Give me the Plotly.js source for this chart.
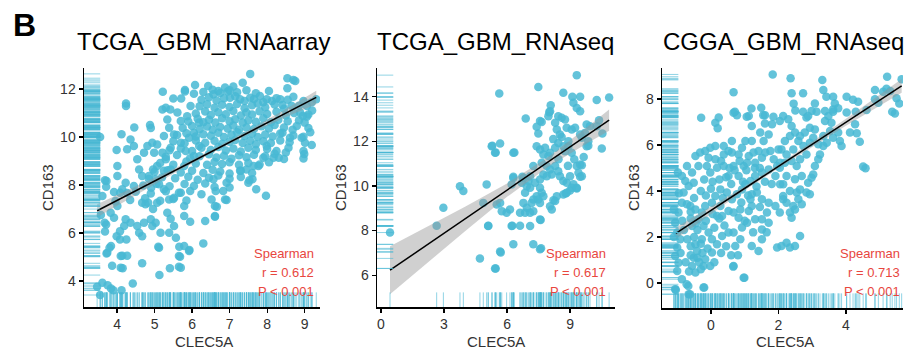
<!DOCTYPE html>
<html>
<head>
<meta charset="utf-8">
<script src="https://cdn.plot.ly/plotly-3.0.1.min.js"></script>
<style>html,body{margin:0;padding:0;background:#fff;}#chart{width:905px;height:349px;}</style>
</head>
<body>
<div id="chart"></div>
<script>
// ---------- Data (CLEC5A, CD163) ----------
const titles = ["TCGA_GBM_RNAarray", "TCGA_GBM_RNAseq", "CGGA_GBM_RNAseq"];
const rValues = ["0.612", "0.617", "0.713"];
const pValues = ["P < 0.001", "P < 0.001", "P < 0.001"];

const arrayPts = [
[3.47,3.76],[3.55,3.42],[3.61,3.93],[3.75,3.83],[3.84,3.69],[3.9,3.62],[4.12,3.62],[4.42,3.9],[5.13,4.25],[4.67,4.74],
[3.87,4.64],[4.14,5.05],[4.27,5.05],[4.15,4.53],[3.72,5.15],[3.84,5.46],[3.57,6.75],[3.71,6.36],[3.68,6.06],[3.71,7.93],
[3.68,8.2],[3.55,10.0],[5.41,4.53],[5.66,5.43],[5.93,5.29],[5.68,5.01],[5.65,4.6],[6.3,5.57],[5.1,5.43],[5.95,6.47],
[6.61,6.68],[6.66,7.1],[6.92,7.38],[7.71,7.82],[7.97,7.55],[7.5,8.1],[7.53,8.2],[8.97,9.11],[8.99,9.29],[9.19,9.67],
[8.97,10.01],[9.06,10.85],[9.31,11.57],[9.19,11.45],[8.7,12.38],[8.54,12.45],[8.54,12.03],[7.55,12.63],[7.1,12.1],[6.08,12.17],
[5.81,11.96],[5.22,11.89],[5.5,11.6],[4.24,11.4],[4.24,11.29],[4.46,10.4],[4.88,10.5],[4.12,10.12],[3.99,9.46],
[3.61,7.54],[3.72,8.17],[3.67,6.43],[3.74,5.18],[3.8,5.39],[4.01,8.79],[4.01,8.38],[4.14,7.82],[4.23,8.1],[4.27,7.67],
[4.45,7.96],[4.59,8.65],[4.67,8.38],[4.54,9.07],[4.72,9.35],[4.45,9.63],[4.27,9.49],[4.36,9.9],[4.81,9.63],[4.94,9.76],
[5.07,9.69],[4.99,9.35],[5.21,9.35],[5.3,9.07],[5.43,9.55],[5.7,9.76],[5.83,9.42],[5.92,9.97],[6.05,10.18],[6.19,9.63],
[6.05,9.21],[5.79,8.79],[5.43,8.65],[5.25,8.6],[5.07,8.79],[4.96,8.65],[4.85,8.38],[5.03,8.24],[5.12,8.03],[5.25,7.82],
[4.91,7.89],[4.67,7.26],[4.76,7.2],[4.83,7.26],[4.96,7.0],[5.07,7.26],[5.39,7.4],[5.52,7.47],[5.7,7.68],[5.79,7.13],
[5.79,6.71],[5.34,6.85],[5.43,6.6],[4.9,6.57],[5.03,6.43],[4.94,6.29],[5.16,6.01],[4.72,6.43],[4.54,6.29],[4.59,6.01],
[4.67,5.87],[4.36,6.43],[4.23,6.57],[4.19,6.29],[4.08,6.08],[3.99,5.87],[4.08,5.73],[4.25,5.73],[3.92,6.64],[3.83,6.85],
[4.01,7.13],[3.96,7.33],[4.08,7.68],[3.92,7.71],[5.52,6.29],[5.39,6.01],[5.12,5.39],[5.57,5.8],[5.65,5.04],[5.79,5.46],
[5.7,4.56],[5.92,5.25],[4.1,5.04],[4.1,4.56],
[4.9,10.38],[5.21,11.15],[5.3,11.22],[5.42,11.15],[5.34,10.73],[5.39,10.39],[5.71,11.6],[5.81,11.9],[6.05,11.8],[5.61,11.02],
[5.7,10.67],[5.87,10.87],[5.96,11.29],[5.52,10.11],[5.25,10.04],[6.19,10.6],
[8.75,12.33],[7.35,12.26],[7.0,11.95],[6.88,12.06],[6.7,11.92],[6.57,11.78],[6.43,12.13],[7.01,11.64],[7.28,11.57],[7.55,11.64],
[7.81,11.71],[7.99,11.57],[8.13,11.5],[8.35,11.57],[8.41,11.33],[8.97,11.5],[9.06,11.29],[9.1,10.94],[8.88,11.02],[8.79,10.46],
[8.92,9.97],[9.01,9.76],[8.97,9.42],[8.61,9.97],[8.57,9.55],[8.41,10.18],[8.31,9.14],[8.17,9.14],[7.99,9.63],[7.9,9.14],
[7.77,8.79],[7.64,8.79],[7.61,8.24],[7.45,8.65],[7.28,8.6],[6.92,8.1],[7.0,7.9],[6.83,7.75],[6.57,8.24],[6.63,7.75],
[6.52,7.4],[6.88,7.4],[6.61,7.13],[6.61,6.71],[6.35,6.5],
[6.3,11.88],[6.55,11.97],[6.75,11.83],[6.95,11.9],[7.2,11.86],[7.45,11.95],[7.7,11.82],[8.05,11.92],
[6.25,11.55],[6.45,11.66],[6.65,11.52],[6.85,11.62],[7.15,11.7],[7.4,11.5],[7.65,11.58],[7.9,11.45],[8.25,11.62],[8.55,11.55],[8.7,11.68],
[6.2,11.28],[6.4,11.36],[6.6,11.22],[6.8,11.34],[7.0,11.25],[7.2,11.38],[7.4,11.2],[7.6,11.32],[7.75,11.4],[7.95,11.24],[8.2,11.35],[8.45,11.18],[8.65,11.3],
[6.1,10.98],[6.35,11.06],[6.5,10.92],[6.7,11.03],[6.9,10.95],[7.1,11.08],[7.3,10.9],[7.45,11.02],[7.6,10.94],[7.8,11.07],[8.0,10.96],[8.25,11.05],[8.5,10.9],[8.72,11.0],[8.95,10.88],
[5.9,10.65],[6.15,10.76],[6.3,10.62],[6.45,10.72],[6.62,10.6],[6.8,10.78],[7.0,10.66],[7.15,10.74],[7.35,10.6],[7.5,10.7],[7.7,10.64],[7.9,10.78],[8.1,10.62],[8.3,10.72],[8.55,10.66],[8.85,10.7],
[5.75,10.38],[6.0,10.46],[6.2,10.32],[6.4,10.44],[6.55,10.3],[6.75,10.42],[6.95,10.35],[7.1,10.48],[7.25,10.3],[7.45,10.4],[7.65,10.33],[7.85,10.45],[8.05,10.36],[8.2,10.5],[8.45,10.4],[8.68,10.3],[9.1,10.38],
[5.6,10.08],[5.85,10.16],[6.1,10.02],[6.3,10.12],[6.5,10.05],[6.7,10.18],[6.85,10.0],[7.05,10.1],[7.2,10.2],[7.4,10.04],[7.6,10.14],[7.75,10.0],[7.95,10.1],[8.15,10.02],[8.35,10.15],[8.7,10.06],
[5.5,9.82],[5.8,9.74],[6.1,9.86],[6.35,9.76],[6.6,9.84],[6.8,9.72],[7.0,9.8],[7.15,9.88],[7.35,9.75],[7.55,9.84],[7.7,9.7],[7.9,9.82],[8.1,9.75],[8.35,9.86],[8.6,9.78],
[5.4,9.45],[5.7,9.52],[6.0,9.42],[6.25,9.55],[6.5,9.46],[6.7,9.58],[6.9,9.44],[7.1,9.52],[7.3,9.4],[7.5,9.55],[7.7,9.46],[8.0,9.5],[8.25,9.42],[8.5,9.36],
[5.3,9.18],[5.6,9.25],[5.95,9.12],[6.2,9.2],[6.45,9.28],[6.65,9.15],[6.85,9.22],[7.05,9.1],[7.25,9.24],[7.45,9.16],[7.65,9.26],[7.95,9.2],[8.2,9.3],[8.45,9.08],
[5.15,8.92],[5.5,8.85],[5.85,8.98],[6.1,8.9],[6.4,8.84],[6.6,8.96],[6.8,8.88],[7.0,8.95],[7.25,8.84],[7.5,8.92],[7.8,8.86],[8.05,8.95],
[5.0,8.55],[5.35,8.62],[5.7,8.52],[6.0,8.6],[6.3,8.5],[6.55,8.64],[6.75,8.56],[7.0,8.48],[7.3,8.6],[7.6,8.5],
[4.85,8.25],[5.2,8.32],[5.55,8.28],[5.9,8.35],[6.15,8.22],[6.45,8.3],[6.7,8.4],[7.0,8.26],[7.3,8.34],
[4.7,7.98],[5.05,8.05],[5.4,7.95],[5.8,8.04],[6.05,7.96],[6.35,8.06],[6.6,7.92],
[4.5,7.72],[4.9,7.65],[5.3,7.74],[5.65,7.68],[5.95,7.75],[6.25,7.62],
[4.35,7.38],[4.75,7.45],[5.15,7.35],[5.5,7.42],[5.85,7.36],
[9.0,10.6],[9.2,11.1],[8.85,11.3],[9.15,10.2]
];

const seqPts = [
[0.43,7.91],[2.65,8.21],[5.63,14.15],[7.49,14.44],[8.68,14.18],[9.32,14.97],[9.48,14.0],[9.11,14.0],[10.27,13.85],[10.86,13.97],
[10.38,12.95],[10.54,12.35],[10.51,11.68],[9.87,11.8],[9.56,10.93],[9.48,10.41],[9.32,9.89],[9.16,10.08],[9.0,9.8],[8.79,9.66],
[8.21,9.36],[6.3,10.41],[6.35,11.5],[6.73,10.41],[6.89,13.03],[7.41,12.65],[7.49,12.35],[7.65,12.87],[8.01,13.3],[8.08,13.62],
[4.71,6.75],[5.46,6.3],[5.7,7.02],[7.62,7.2],[5.11,8.21],[6.25,8.21],[6.62,8.21],[7.6,8.47],[5.46,11.5],[5.3,11.8],
[9.16,13.73],[9.32,13.5],[9.48,13.35],[8.05,13.35],[7.97,13.13],[7.57,12.91],[8.44,13.13],[8.6,13.06],[8.76,12.98],
[8.84,12.61],[9.08,12.53],[9.24,12.61],[8.29,12.83],[8.37,12.53],[8.52,12.31],[9.79,12.76],[9.95,12.68],[9.71,12.38],[10.27,12.68],
[9.48,12.31],[9.56,12.16],[9.79,11.78],[9.87,12.01],[8.92,12.01],[8.92,11.78],[9.08,11.49],[8.68,11.78],[8.76,11.56],[8.44,11.93],
[8.29,11.71],[8.05,11.49],[7.97,11.34],[7.81,11.71],[7.73,11.41],[7.57,11.63],[7.41,11.78],[7.25,10.89],[7.65,11.04],[7.89,10.89],
[8.05,10.74],[8.13,10.51],[8.29,10.89],[8.44,10.66],[8.52,10.44],[8.68,10.22],[8.84,10.14],[9.0,10.44],[9.32,10.89],[9.4,10.59],
[9.48,10.96],[9.56,10.44],[7.89,10.44],[7.73,10.51],[7.57,10.29],[7.33,10.14],[7.1,10.44],[6.78,10.36],[6.7,10.14],[6.3,10.36],
[6.22,10.07],[7.1,9.92],[7.57,9.92],[7.65,9.69],[7.73,9.54],[7.41,9.54],[7.25,9.39],[7.02,10.22],[6.94,9.99],[6.86,9.69],
[7.17,9.24],[7.49,9.39],[7.57,9.24],[6.78,9.24],[6.94,9.02],[6.62,8.8],[6.86,8.8],[7.1,8.8],[7.25,8.87],[7.57,8.5],
[7.1,8.2],[6.22,8.2],[6.14,8.94],[5.98,8.8],[5.75,8.87],[5.51,9.17],[5.67,9.24],[4.87,9.24],[5.1,8.2],[5.03,10.07],
[3.76,9.99],[3.92,9.77],[2.97,9.02],[5.27,11.78],[5.67,11.9],[5.43,11.49],[6.3,11.49],[9.08,9.92],[8.84,9.69],[8.68,9.62],
[9.32,9.92],[8.37,9.54],[8.29,9.32],[8.05,9.09],[8.13,8.94],[6.3,7.38],[7.25,7.38],[7.57,7.16],[5.67,7.06],[5.43,6.3],
[8.6,12.2],[8.2,12.1],[9.2,11.2],[8.45,11.2],[8.9,10.9],[9.65,11.3]
];

const cggaPts = [
[-0.46,5.52],[-0.32,5.67],[-0.07,5.45],[0.13,5.38],[-0.12,5.09],[-0.02,4.8],[0.18,5.01],[0.38,5.59],[0.52,5.74],[0.62,5.67],
[0.82,5.59],[0.38,5.09],[0.52,4.65],[0.67,5.09],[0.82,4.65],[0.97,5.09],[1.07,5.23],[1.12,5.52],[1.26,5.67],[1.41,5.74],
[1.31,5.23],[1.51,5.45],[1.61,5.67],[1.76,5.74],[1.86,5.38],[1.96,5.09],[1.71,4.94],[1.51,4.8],[1.31,4.65],[1.17,4.43],
[1.02,4.29],[0.92,4.07],[0.77,3.86],[0.62,3.64],[0.47,3.93],[0.28,4.07],[0.13,3.78],[0.03,3.49],[-0.17,3.35],[-0.27,3.06],
[-0.46,3.2],[-0.61,3.35],[-0.37,2.77],[-0.56,2.48],[-0.22,2.48],[-0.07,2.19],[0.03,1.9],[-0.27,1.9],[-0.46,1.68],[-0.41,1.39],
[-0.51,1.1],[-0.56,0.74],[-0.46,0.45],[-0.22,0.74],[-0.02,0.74],[-0.17,1.03],[0.03,1.32],[0.18,1.68],[0.33,2.04],[0.52,2.19],
[0.67,2.19],[0.72,1.61],[0.87,1.9],[0.92,2.41],[1.07,2.62],[0.82,2.84],[0.67,3.06],[0.87,3.2],[1.12,3.13],[1.21,3.35],
[1.31,2.77],[1.51,2.77],[1.66,3.06],[1.71,3.49],[1.51,3.64],[1.36,3.93],[1.21,3.86],[1.17,3.64],[1.51,2.33],[1.71,2.62],
[1.51,1.9],[1.41,1.39],[1.21,1.61],[0.67,0.74],[0.97,0.23],[-0.22,-0.2],[0.52,3.13],[0.33,2.91],[0.18,2.91],[0.28,3.35],
[1.91,3.35],[1.96,1.54],[2.05,4.29],[1.91,4.65],[2.05,5.23],[2.0,5.81],[1.56,6.17],[1.71,6.46],[1.81,6.9],[1.46,6.54],
[1.21,6.17],[1.02,6.17],[0.92,5.88],[0.62,6.17],[0.38,5.96],[0.13,5.96],[-0.02,5.88],[-0.17,5.74],[-0.37,5.09],[-0.56,4.8],
[-0.86,4.65],[-0.71,5.09],[-0.76,4.43],
[-1.06,2.62],[-1.0,2.19],[-0.91,1.9],[-1.0,1.54],[-1.06,1.17],[-0.96,0.88],[-1.0,0.52],[-1.06,-0.27],[-0.86,0.16],[-0.72,-0.06],
[-0.66,-0.49],[-0.86,3.49],[-0.96,3.06],[-0.71,3.42],[-0.81,3.93],[-0.66,4.22],[-0.51,4.36],[-0.98,4.8],
[1.83,9.07],[0.67,8.3],[-0.29,7.19],[0.13,6.97],[0.23,7.2],[0.2,6.73],[0.67,7.4],[0.77,7.3],[1.12,7.26],[1.49,7.62],[1.6,7.3],[1.21,6.83],
[0.66,0.71],[0.99,0.23],[-0.2,-0.2],[-0.62,-0.49],[-1.04,-0.3],[-0.67,-0.13],
[-0.8,2.3],[-0.7,1.9],[-0.6,1.6],[-0.5,2.0],[-0.4,2.3],[-0.3,1.7],[-0.6,1.2],[-0.75,0.9],[-0.35,0.9],[-0.25,1.3],
[-0.1,1.5],[-0.85,2.7],[-0.6,2.8],[-0.4,1.1],[-0.15,2.7],[-0.9,1.3],[-0.65,0.5],[-0.3,0.6],[-1.1,2.0],[-1.1,3.2],
[-0.95,3.9],[-0.5,3.7],[-0.3,4.0],[-0.15,3.8],[0.0,4.1],[-0.6,3.1],[-0.45,2.6],[0.1,2.4],[0.25,2.8],[0.05,3.0],
[0.4,2.5],[0.45,1.6],[0.3,1.3],[0.1,0.9],[0.6,1.2],[0.35,3.7],[0.6,4.3],[0.45,4.6],[0.25,4.5],[0.05,4.4],
[-0.2,4.5],[0.7,4.9],[0.95,4.4],[1.05,4.9],[1.3,5.0],[0.85,5.3],[0.3,5.3],[0.55,5.0],[1.45,5.0],[1.6,4.4],
[1.35,4.2],[1.8,4.3],[1.1,3.8],[1.45,3.3],[0.9,3.5],[1.0,2.7],[1.25,2.2],[1.65,2.2],[0.8,1.2],
[2.04,7.04],[2.14,7.26],[2.29,7.12],[2.39,6.83],[2.49,6.54],[2.34,6.39],[2.19,6.17],[2.09,5.81],[2.24,5.59],[2.44,5.81],
[2.59,6.17],[2.64,6.39],[2.78,6.54],[2.93,6.75],[3.08,6.68],[3.03,6.32],[2.93,6.1],[2.74,5.96],[2.83,5.59],[2.64,5.38],
[2.54,5.09],[2.39,5.3],[2.19,5.23],[2.04,5.01],[2.24,4.65],[2.49,4.51],[2.69,4.65],[2.88,4.36],[2.98,4.58],[3.03,4.72],
[3.08,5.09],[3.18,5.38],[3.23,5.59],[3.33,5.96],[3.43,6.1],[3.62,6.32],[3.77,6.54],[3.82,6.17],[3.33,6.39],[3.18,6.03],
[2.14,4.29],[2.34,4.0],[2.54,3.93],[2.64,4.07],[2.83,3.93],[2.14,3.64],[2.24,3.49],[2.44,3.35],[2.59,3.64],[2.69,3.42],
[2.93,3.86],[2.34,3.06],[2.39,2.84],[2.49,3.2],[2.64,2.04],[2.24,1.75],[2.34,1.54],[2.49,1.61],[2.09,1.61],[2.14,3.78],[2.04,3.06],
[2.36,8.9],[3.3,8.83],[5.22,8.97],[5.65,8.86],[2.39,8.25],[2.73,8.25],[2.45,7.8],[2.5,7.5],[2.73,7.45],[2.83,7.2],
[3.08,7.81],[3.13,7.45],[3.33,8.39],[3.42,8.1],[3.62,8.1],[3.67,7.81],[3.62,7.45],[3.77,7.6],[4.02,8.1],[4.21,7.97],
[4.29,7.45],[4.36,7.88],[4.61,7.52],[4.86,8.39],[5.1,8.32],[5.2,8.45],[5.5,8.03],[5.58,7.81],[5.45,7.37],[5.37,7.45],
[4.41,6.14],[4.32,6.51],[4.51,5.06],[4.58,4.99],[1.55,7.3],[1.6,6.94],[1.85,7.23],[1.2,7.59],[1.06,7.23],[0.71,7.45],
[3.57,6.97],[3.53,6.61],[3.38,7.04],[3.48,7.26],[3.38,7.48],[3.62,7.55],[4.02,7.41],[4.27,6.9],[4.12,6.54],[3.87,5.96],
[2.98,7.48],[2.88,7.26],[4.96,7.84],[4.86,7.99],[5.31,8.35]
];

// Fitted lines with 95% band
const fitX1 = [3.47, 4.5, 5.5, 6.5, 7.5, 8.5, 9.31];
const fitY1 = [6.93, 7.76, 8.57, 9.38, 10.19, 11.0, 11.65];
const loY1  = [6.66, 7.59, 8.47, 9.31, 10.1, 10.83, 11.37];
const hiY1  = [7.2, 7.93, 8.67, 9.45, 10.28, 11.17, 11.93];

const fitX2 = [0.43, 2, 4, 6, 8, 10, 10.86];
const fitY2 = [6.22, 7.23, 8.52, 9.81, 11.1, 12.4, 12.95];
const loY2  = [5.14, 6.38, 7.97, 9.51, 10.88, 12.02, 12.47];
const hiY2  = [7.3, 8.08, 9.07, 10.11, 11.32, 12.78, 13.43];

const fitX3 = [-1.04, 0, 1, 2, 3, 4, 5.65];
const fitY3 = [2.16, 3.16, 4.12, 5.07, 6.03, 6.99, 8.57];
const loY3  = [1.91, 3.01, 4.03, 4.99, 5.93, 6.84, 8.27];
const hiY3  = [2.41, 3.31, 4.21, 5.15, 6.13, 7.14, 8.87];

const xTicks1 = [4,5,6,7,8,9], yTicks1 = [4,6,8,10,12];
const xTicks2 = [0,3,6,9],     yTicks2 = [6,8,10,12,14];
const xTicks3 = [0,2,4],       yTicks3 = [0,2,4,6,8];

// ---------- Build ----------
const W = 905, H = 349;
const FONT = "Liberation Sans, Arial, Helvetica, sans-serif";
const PT = "rgba(72,184,212,0.85)";
const RUG = "rgba(72,184,212,0.6)";
const RED = "#E8463E";

const panels = [
  {pts: arrayPts, fx: fitX1, fy: fitY1, lo: loY1, hi: hiY1, xt: xTicks1, yt: yTicks1,
   px: [84, 320], py: [68, 307], xr: [3.12, 9.41], yr: [2.92, 12.875], tx: 203, ax: 204, ay: 47, sx: 316},
  {pts: seqPts, fx: fitX2, fy: fitY2, lo: loY2, hi: hiY2, xt: xTicks2, yt: yTicks2,
   px: [377, 615], py: [68, 307], xr: [-0.19, 11.14], yr: [4.57, 15.29], tx: 496, ax: 496, ay: 340, sx: 608},
  {pts: cggaPts, fx: fitX3, fy: fitY3, lo: loY3, hi: hiY3, xt: xTicks3, yt: yTicks3,
   px: [662, 903], py: [68, 308], xr: [-1.45, 5.69], yr: [-1.09, 9.35], tx: 783, ax: 785, ay: 633, sx: 902}
];

const data = [];
const layout = {
  width: W, height: H, margin: {l:0, r:0, t:0, b:0},
  paper_bgcolor: "#fff", plot_bgcolor: "rgba(0,0,0,0)",
  showlegend: false, font: {family: FONT, color: "#333"},
  annotations: [], shapes: []
};

panels.forEach((p, i) => {
  const n = i + 1, m = i + 4;
  const xs = p.pts.map(d => d[0]), ys = p.pts.map(d => d[1]);
  const xd = [p.px[0]/W, p.px[1]/W], yd = [1 - p.py[1]/H, 1 - p.py[0]/H];
  const axBase = {showline: true, linecolor: "#000", linewidth: 1.5, ticks: "outside", ticklen: 4,
                  tickwidth: 1.2, tickcolor: "#000", showgrid: false, zeroline: false,
                  tickfont: {size: 14, color: "#333", family: FONT}, fixedrange: true};
  layout["xaxis" + n] = Object.assign({}, axBase, {domain: xd, range: p.xr, tickvals: p.xt, anchor: "y" + n});
  layout["yaxis" + n] = Object.assign({}, axBase, {domain: yd, range: p.yr, tickvals: p.yt, anchor: "x" + n});
  layout["xaxis" + m] = {domain: xd, range: [0, 1], overlaying: "x" + n, visible: false, anchor: "y" + n};
  layout["yaxis" + m] = {domain: yd, range: [0, 1], overlaying: "y" + n, visible: false, anchor: "x" + n};

  // left rug
  data.push({type: "scatter", mode: "markers", xaxis: "x" + m, yaxis: "y" + n,
    x: ys.map(() => 0.033), y: ys, hoverinfo: "skip",
    marker: {symbol: "line-ew", size: 12, line: {width: 1, color: RUG}}});
  // bottom rug
  data.push({type: "scatter", mode: "markers", xaxis: "x" + n, yaxis: "y" + m,
    x: xs, y: xs.map(() => 0.026), hoverinfo: "skip",
    marker: {symbol: "line-ns", size: 12, line: {width: 1, color: RUG}}});
  // points
  data.push({type: "scatter", mode: "markers", xaxis: "x" + n, yaxis: "y" + n,
    x: xs, y: ys, marker: {size: 8.5, color: PT, line: {width: 0}}});
  // band
  data.push({type: "scatter", mode: "lines", xaxis: "x" + n, yaxis: "y" + n,
    x: p.fx.concat(p.fx.slice().reverse()), y: p.hi.concat(p.lo.slice().reverse()),
    fill: "toself", fillcolor: "rgba(150,150,150,0.45)", line: {width: 0}, hoverinfo: "skip"});
  // fit line
  data.push({type: "scatter", mode: "lines", xaxis: "x" + n, yaxis: "y" + n,
    x: p.fx, y: p.fy, line: {color: "#000", width: 1.5}, hoverinfo: "skip"});

  // titles
  layout.annotations.push({xref: "paper", yref: "paper", x: p.tx/W, y: 1 - 42/H, text: titles[i],
    showarrow: false, xanchor: "center", yanchor: "middle", font: {size: 24, color: "#000", family: FONT}});
  layout.annotations.push({xref: "paper", yref: "paper", x: p.ax/W, y: 1 - 341/H, text: "CLEC5A",
    showarrow: false, xanchor: "center", yanchor: "middle", font: {size: 15, color: "#333", family: FONT}});
  layout.annotations.push({xref: "paper", yref: "paper", x: p.ay/W, y: 1 - 188/H, text: "CD163", textangle: -90,
    showarrow: false, xanchor: "center", yanchor: "middle", font: {size: 15, color: "#333", family: FONT}});
  const st = ["Spearman", "r = " + rValues[i], pValues[i]];
  const sy = [253, 272, 291];
  st.forEach((t, k) => layout.annotations.push({xref: "paper", yref: "paper", x: p.sx/W, y: 1 - sy[k]/H,
    text: t, showarrow: false, xanchor: "right", yanchor: "middle", font: {size: 13, color: RED, family: FONT}}));
});

layout.annotations.push({xref: "paper", yref: "paper", x: 24/W, y: 1 - 25/H, text: "<b>B</b>",
  showarrow: false, xanchor: "center", yanchor: "middle", font: {size: 32, color: "#000", family: FONT}});

Plotly.newPlot("chart", data, layout, {staticPlot: true, displayModeBar: false});
</script>
</body>
</html>
